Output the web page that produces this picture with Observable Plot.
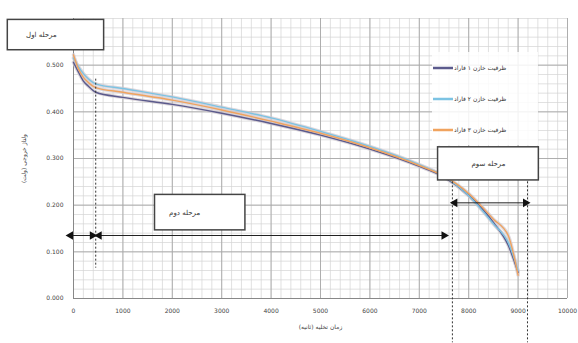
<!DOCTYPE html>
<html><head><meta charset="utf-8">
<script src="https://cdn.jsdelivr.net/npm/d3@7"></script>
<script src="https://cdn.jsdelivr.net/npm/@observablehq/plot@0.6"></script>
<style>
body{margin:0;background:#fff;font-family:"DejaVu Sans",sans-serif;}
#wrap{position:relative;width:578px;height:343px;}
#legend{position:absolute;left:432px;top:52px;width:106px;background:rgba(255,255,255,0.85);font-size:6px;color:#333;direction:rtl;}
.item{display:flex;align-items:center;justify-content:flex-end;height:31px;}
.item span{margin-right:3px;}
</style>
</head><body><div id="wrap"><div id="chart"></div><div id="legend"></div></div>
<script>
const times = [0, 100, 200, 300, 450, 1000, 2000, 3000, 4000, 5000, 6000, 7000, 7500, 8000, 8500, 8800, 9000];
const series1 = [0.506, 0.485, 0.466, 0.455, 0.442, 0.431, 0.416, 0.397, 0.375, 0.350, 0.320, 0.283, 0.260, 0.221, 0.163, 0.114, 0.056];
const series2 = [0.515, 0.497, 0.482, 0.471, 0.460, 0.450, 0.432, 0.410, 0.387, 0.358, 0.326, 0.287, 0.262, 0.220, 0.160, 0.120, 0.060];
const series3 = [0.522, 0.492, 0.474, 0.463, 0.452, 0.442, 0.425, 0.404, 0.380, 0.354, 0.323, 0.285, 0.262, 0.225, 0.170, 0.135, 0.050];
const seriesNames = ["ظرفیت خازن ۱ فاراد", "ظرفیت خازن ۲ فاراد", "ظرفیت خازن ۳ فاراد"];
const seriesColors = ["#5b5a8c", "#7cc3e3", "#f0a35e"];
const xTicks = [0, 1000, 2000, 3000, 4000, 5000, 6000, 7000, 8000, 9000, 10000];
const yTicks = [0, 0.1, 0.2, 0.3, 0.4, 0.5];
const stageLabels = ["مرحله اول", "مرحله دوم", "مرحله سوم"];
// annotation boxes in data units: [x1, x2, y1, y2]
const stageBoxX1 = [-1330, 1650, 7380];
const stageBoxX2 = [620, 3480, 9420];
const stageBoxY1 = [0.532, 0.146, 0.253];
const stageBoxY2 = [0.597, 0.222, 0.324];
const stageTextX = [-650, 2250, 8400];
const stageTextY = [0.565, 0.184, 0.289];
const stageTextAnchor = ["middle", "middle", "middle"];
// dashed boundaries
const boundaryX = [450, 7670, 9190];
const boundaryTop = [0.47, 0.25, 0.25];
const boundaryBottom = [0.065, -0.095, -0.095];
// arrows
const arrowX1 = [-60, 520, 7720];
const arrowX2 = [380, 7500, 9150];
const arrowY = [0.135, 0.135, 0.205];

const rows = [];
[series1, series2, series3].forEach((s, i) => s.forEach((v, j) => rows.push({t: times[j], v, s: seriesNames[i]})));
const boxes = stageLabels.map((l, i) => ({l, x1: stageBoxX1[i], x2: stageBoxX2[i], y1: stageBoxY1[i], y2: stageBoxY2[i], tx: stageTextX[i], ty: stageTextY[i], a: stageTextAnchor[i]}));
const bounds = boundaryX.map((x, i) => ({x, y1: boundaryTop[i], y2: boundaryBottom[i]}));
const arrows = arrowX1.map((x1, i) => ({x1, x2: arrowX2[i], y: arrowY[i]}));
const heads = arrows.flatMap(a => [{x: a.x1, y: a.y, r: -90}, {x: a.x2, y: a.y, r: 90}]);

const minorX = d3.range(0, 10001, 200);
const minorY = d3.range(0, 0.6001, 0.02);

const chart = Plot.plot({
  width: 578, height: 343,
  marginLeft: 73, marginRight: 11, marginTop: 18, marginBottom: 45,
  style: {fontFamily: "DejaVu Sans", fontSize: "6px", color: "#444", background: "#fff"},
  x: {domain: [0, 10000], ticks: xTicks, tickFormat: d => String(d), tickSize: 0, tickPadding: 10, label: "زمان تخلیه (ثانیه)", labelAnchor: "center", labelOffset: 30, labelArrow: "none"},
  y: {domain: [0, 0.6], ticks: yTicks, tickFormat: d3.format(".3f"), tickSize: 0, tickPadding: 10, label: "ولتاژ خروجی (ولت)", labelAnchor: "center", labelOffset: 52, labelArrow: "none"},
  color: {domain: seriesNames, range: seriesColors},
  marks: [
    Plot.ruleX(minorX, {stroke: "#d4d4d4", strokeWidth: 0.7}),
    Plot.ruleY(minorY, {stroke: "#d4d4d4", strokeWidth: 0.7}),
    Plot.ruleX(xTicks, {stroke: "#a8a8a8", strokeWidth: 0.9}),
    Plot.ruleY(yTicks, {stroke: "#a8a8a8", strokeWidth: 0.9}),
    Plot.ruleY([0], {stroke: "#888"}),
    Plot.ruleX([0], {stroke: "#888"}),
    Plot.line(rows, {x: "t", y: "v", z: "s", stroke: "#cfc7cf", strokeWidth: 3.5, curve: "monotone-x", strokeOpacity: 0.7}),
    Plot.line(rows, {x: "t", y: "v", z: "s", stroke: "s", strokeWidth: 1.4, curve: "monotone-x"}),
    Plot.ruleX(bounds, {x: "x", y1: "y1", y2: "y2", stroke: "#333", strokeWidth: 1, strokeDasharray: "2,2"}),
    Plot.link(arrows, {x1: "x1", x2: "x2", y1: "y", y2: "y", stroke: "#222", strokeWidth: 1}),
    Plot.dot(heads, {x: "x", y: "y", rotate: "r", symbol: "triangle", r: 3.2, fill: "#111", stroke: "none"}),
    Plot.rect(boxes, {x1: "x1", x2: "x2", y1: "y1", y2: "y2", fill: "#fff", stroke: "#444", strokeWidth: 1.5}),
    Plot.text(boxes, {x: "tx", y: "ty", text: "l", textAnchor: "a", fontSize: 7, fill: "#333"})
  ]
});
document.getElementById("chart").appendChild(chart);

const legend = document.getElementById("legend");
seriesNames.forEach((n, i) => {
  const d = document.createElement("div");
  d.className = "item";
  d.innerHTML = `<span>${n}</span><svg width="22" height="6"><line x1="1" y1="3" x2="21" y2="3" stroke="${seriesColors[i]}" stroke-width="2.5"/></svg>`;
  legend.appendChild(d);
});
</script>
</body></html>
